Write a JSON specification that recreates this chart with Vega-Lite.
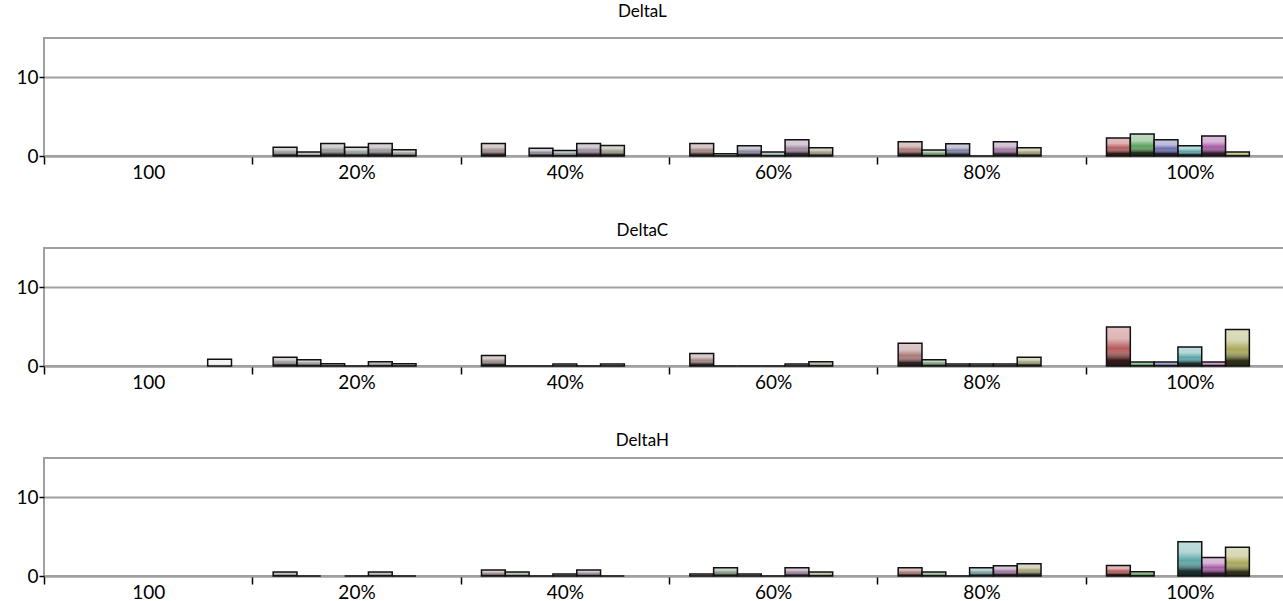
{
  "$schema": "https://vega.github.io/schema/vega-lite/v6.json",
  "padding": {"left": 14, "top": 2, "right": 0, "bottom": 0},
  "config": {
    "font": "Lato",
    "view": {"stroke": "#a0a0a0", "strokeWidth": 2},
    "axis": {"labelFont": "Lato", "labelFontSize": 19, "labelColor": "#000000", "domainColor": "#a0a0a0", "domainWidth": 2, "tickColor": "#000000", "tickWidth": 1.5, "title": null},
    "title": {"font": "Lato", "fontSize": 17, "fontWeight": "normal", "color": "#000000", "anchor": "middle", "frame": "bounds", "dx": -13},
    "concat": {"spacing": 38}
  },
  "datasets": {
    "d": [
      {"p": "DeltaL", "c": "20%", "s": "R", "k": "R20", "v": 1.1},
      {"p": "DeltaL", "c": "20%", "s": "G", "k": "G20", "v": 0.5},
      {"p": "DeltaL", "c": "20%", "s": "B", "k": "B20", "v": 1.6},
      {"p": "DeltaL", "c": "20%", "s": "C", "k": "C20", "v": 1.1},
      {"p": "DeltaL", "c": "20%", "s": "M", "k": "M20", "v": 1.6},
      {"p": "DeltaL", "c": "20%", "s": "Y", "k": "Y20", "v": 0.8},
      {"p": "DeltaL", "c": "40%", "s": "R", "k": "R40", "v": 1.6},
      {"p": "DeltaL", "c": "40%", "s": "B", "k": "B40", "v": 1.0},
      {"p": "DeltaL", "c": "40%", "s": "C", "k": "C40", "v": 0.7},
      {"p": "DeltaL", "c": "40%", "s": "M", "k": "M40", "v": 1.6},
      {"p": "DeltaL", "c": "40%", "s": "Y", "k": "Y40", "v": 1.35},
      {"p": "DeltaL", "c": "60%", "s": "R", "k": "R60", "v": 1.6},
      {"p": "DeltaL", "c": "60%", "s": "G", "k": "G60", "v": 0.3},
      {"p": "DeltaL", "c": "60%", "s": "B", "k": "B60", "v": 1.3},
      {"p": "DeltaL", "c": "60%", "s": "C", "k": "C60", "v": 0.5},
      {"p": "DeltaL", "c": "60%", "s": "M", "k": "M60", "v": 2.05},
      {"p": "DeltaL", "c": "60%", "s": "Y", "k": "Y60", "v": 1.05},
      {"p": "DeltaL", "c": "80%", "s": "R", "k": "R80", "v": 1.8},
      {"p": "DeltaL", "c": "80%", "s": "G", "k": "G80", "v": 0.75},
      {"p": "DeltaL", "c": "80%", "s": "B", "k": "B80", "v": 1.55},
      {"p": "DeltaL", "c": "80%", "s": "C", "k": "C80", "v": 0},
      {"p": "DeltaL", "c": "80%", "s": "M", "k": "M80", "v": 1.8},
      {"p": "DeltaL", "c": "80%", "s": "Y", "k": "Y80", "v": 1.05},
      {"p": "DeltaL", "c": "100%", "s": "R", "k": "R100", "v": 2.3},
      {"p": "DeltaL", "c": "100%", "s": "G", "k": "G100", "v": 2.8},
      {"p": "DeltaL", "c": "100%", "s": "B", "k": "B100", "v": 2.05},
      {"p": "DeltaL", "c": "100%", "s": "C", "k": "C100", "v": 1.3},
      {"p": "DeltaL", "c": "100%", "s": "M", "k": "M100", "v": 2.55},
      {"p": "DeltaL", "c": "100%", "s": "Y", "k": "Y100", "v": 0.5},

      {"p": "DeltaC", "c": "100", "s": "W", "k": "W", "v": 0.85},
      {"p": "DeltaC", "c": "20%", "s": "R", "k": "R20", "v": 1.1},
      {"p": "DeltaC", "c": "20%", "s": "G", "k": "G20", "v": 0.8},
      {"p": "DeltaC", "c": "20%", "s": "B", "k": "B20", "v": 0.3},
      {"p": "DeltaC", "c": "20%", "s": "C", "k": "C20", "v": 0},
      {"p": "DeltaC", "c": "20%", "s": "M", "k": "M20", "v": 0.55},
      {"p": "DeltaC", "c": "20%", "s": "Y", "k": "Y20", "v": 0.3},
      {"p": "DeltaC", "c": "40%", "s": "R", "k": "R40", "v": 1.35},
      {"p": "DeltaC", "c": "40%", "s": "G", "k": "G40", "v": 0},
      {"p": "DeltaC", "c": "40%", "s": "B", "k": "B40", "v": 0},
      {"p": "DeltaC", "c": "40%", "s": "C", "k": "C40", "v": 0.25},
      {"p": "DeltaC", "c": "40%", "s": "M", "k": "M40", "v": 0},
      {"p": "DeltaC", "c": "40%", "s": "Y", "k": "Y40", "v": 0.25},
      {"p": "DeltaC", "c": "60%", "s": "R", "k": "R60", "v": 1.6},
      {"p": "DeltaC", "c": "60%", "s": "G", "k": "G60", "v": 0},
      {"p": "DeltaC", "c": "60%", "s": "B", "k": "B60", "v": 0},
      {"p": "DeltaC", "c": "60%", "s": "C", "k": "C60", "v": 0},
      {"p": "DeltaC", "c": "60%", "s": "M", "k": "M60", "v": 0.25},
      {"p": "DeltaC", "c": "60%", "s": "Y", "k": "Y60", "v": 0.55},
      {"p": "DeltaC", "c": "80%", "s": "R", "k": "R80", "v": 2.9},
      {"p": "DeltaC", "c": "80%", "s": "G", "k": "G80", "v": 0.8},
      {"p": "DeltaC", "c": "80%", "s": "B", "k": "B80", "v": 0.25},
      {"p": "DeltaC", "c": "80%", "s": "C", "k": "C80", "v": 0.25},
      {"p": "DeltaC", "c": "80%", "s": "M", "k": "M80", "v": 0.25},
      {"p": "DeltaC", "c": "80%", "s": "Y", "k": "Y80", "v": 1.1},
      {"p": "DeltaC", "c": "100%", "s": "R", "k": "R100", "v": 4.95},
      {"p": "DeltaC", "c": "100%", "s": "G", "k": "G100", "v": 0.5},
      {"p": "DeltaC", "c": "100%", "s": "B", "k": "B100", "v": 0.5},
      {"p": "DeltaC", "c": "100%", "s": "C", "k": "C100", "v": 2.4},
      {"p": "DeltaC", "c": "100%", "s": "M", "k": "M100", "v": 0.5},
      {"p": "DeltaC", "c": "100%", "s": "Y", "k": "Y100", "v": 4.65},

      {"p": "DeltaH", "c": "20%", "s": "R", "k": "R20", "v": 0.5},
      {"p": "DeltaH", "c": "20%", "s": "G", "k": "G20", "v": 0},
      {"p": "DeltaH", "c": "20%", "s": "C", "k": "C20", "v": 0},
      {"p": "DeltaH", "c": "20%", "s": "M", "k": "M20", "v": 0.5},
      {"p": "DeltaH", "c": "20%", "s": "Y", "k": "Y20", "v": 0},
      {"p": "DeltaH", "c": "40%", "s": "R", "k": "R40", "v": 0.75},
      {"p": "DeltaH", "c": "40%", "s": "G", "k": "G40", "v": 0.5},
      {"p": "DeltaH", "c": "40%", "s": "B", "k": "B40", "v": 0},
      {"p": "DeltaH", "c": "40%", "s": "C", "k": "C40", "v": 0.25},
      {"p": "DeltaH", "c": "40%", "s": "M", "k": "M40", "v": 0.75},
      {"p": "DeltaH", "c": "40%", "s": "Y", "k": "Y40", "v": 0},
      {"p": "DeltaH", "c": "60%", "s": "R", "k": "R60", "v": 0.25},
      {"p": "DeltaH", "c": "60%", "s": "G", "k": "G60", "v": 1.05},
      {"p": "DeltaH", "c": "60%", "s": "B", "k": "B60", "v": 0.25},
      {"p": "DeltaH", "c": "60%", "s": "C", "k": "C60", "v": 0},
      {"p": "DeltaH", "c": "60%", "s": "M", "k": "M60", "v": 1.05},
      {"p": "DeltaH", "c": "60%", "s": "Y", "k": "Y60", "v": 0.5},
      {"p": "DeltaH", "c": "80%", "s": "R", "k": "R80", "v": 1.05},
      {"p": "DeltaH", "c": "80%", "s": "G", "k": "G80", "v": 0.5},
      {"p": "DeltaH", "c": "80%", "s": "B", "k": "B80", "v": 0},
      {"p": "DeltaH", "c": "80%", "s": "C", "k": "C80", "v": 1.05},
      {"p": "DeltaH", "c": "80%", "s": "M", "k": "M80", "v": 1.3},
      {"p": "DeltaH", "c": "80%", "s": "Y", "k": "Y80", "v": 1.55},
      {"p": "DeltaH", "c": "100%", "s": "R", "k": "R100", "v": 1.35},
      {"p": "DeltaH", "c": "100%", "s": "G", "k": "G100", "v": 0.55},
      {"p": "DeltaH", "c": "100%", "s": "C", "k": "C100", "v": 4.35},
      {"p": "DeltaH", "c": "100%", "s": "M", "k": "M100", "v": 2.35},
      {"p": "DeltaH", "c": "100%", "s": "Y", "k": "Y100", "v": 3.65}
    ]
  },
  "vconcat": [
    {
      "title": {"text": "DeltaL", "offset": 17},
      "width": 1250, "height": 118,
      "data": {"name": "d"},
      "transform": [{"filter": "datum.p === 'DeltaL'"}],
      "encoding": {
        "x": {"field": "c", "type": "nominal", "scale": {"domain": ["100", "20%", "40%", "60%", "80%", "100%"], "paddingInner": 0, "paddingOuter": 0}, "axis": {"labelAngle": 0, "tickBand": "extent", "tickSize": 8, "labelPadding": -1}},
        "xOffset": {"field": "s", "type": "nominal", "scale": {"domain": ["R", "G", "B", "C", "M", "Y", "W"], "paddingInner": 0, "paddingOuter": 0.875}},
        "y": {"field": "v", "type": "quantitative", "scale": {"domain": [0, 15]}, "axis": {"values": [0, 10], "grid": true, "gridColor": "#a0a0a0", "gridWidth": 2, "tickSize": 5, "labelPadding": 1, "domain": false}}
      },
      "layer": [
        {"mark": {"type": "bar"}, "encoding": {"color": {"field": "k", "type": "nominal", "legend": null, "scale": {
          "domain": ["R20","G20","B20","C20","M20","Y20","R40","G40","B40","C40","M40","Y40","R60","G60","B60","C60","M60","Y60","R80","G80","B80","C80","M80","Y80","R100","G100","B100","C100","M100","Y100","W"],
          "range": ["#9b9797","#979a97","#98989b","#979b9b","#9b979b","#9b9b97","#a08d8d","#8d9b8d","#90909e","#8d9c9c","#9c8d9c","#9d9d8d","#a48484","#849c84","#8989a2","#849e9e","#9e849e","#9f9f84","#a97777","#779d77","#8080a6","#77a1a1","#a077a0","#a2a277","#b65a5a","#5aa05a","#6a6ab0","#5aa6a6","#a45aa4","#a8a85a","#f4f4f4"]}}}},
        {"mark": {"type": "bar", "stroke": "#111111", "strokeWidth": 1.5, "fill": {"gradient": "linear", "x1": 0, "y1": 0, "x2": 0, "y2": 1, "stops": [{"offset": 0, "color": "rgba(255,255,255,0.62)"}, {"offset": 0.3, "color": "rgba(255,255,255,0.55)"}, {"offset": 0.55, "color": "rgba(255,255,255,0)"}, {"offset": 0.85, "color": "rgba(0,0,0,0.7)"}, {"offset": 1, "color": "rgba(0,0,0,0.78)"}]}},
         "encoding": {"fillOpacity": {"condition": {"test": "datum.s === 'W'", "value": 0.1}, "value": 1}}}
      ]
    },
    {
      "title": {"text": "DeltaC", "offset": 8},
      "width": 1250, "height": 118,
      "data": {"name": "d"},
      "transform": [{"filter": "datum.p === 'DeltaC'"}],
      "encoding": {
        "x": {"field": "c", "type": "nominal", "scale": {"domain": ["100", "20%", "40%", "60%", "80%", "100%"], "paddingInner": 0, "paddingOuter": 0}, "axis": {"labelAngle": 0, "tickBand": "extent", "tickSize": 8, "labelPadding": -1}},
        "xOffset": {"field": "s", "type": "nominal", "scale": {"domain": ["R", "G", "B", "C", "M", "Y", "W"], "paddingInner": 0, "paddingOuter": 0.875}},
        "y": {"field": "v", "type": "quantitative", "scale": {"domain": [0, 15]}, "axis": {"values": [0, 10], "grid": true, "gridColor": "#a0a0a0", "gridWidth": 2, "tickSize": 5, "labelPadding": 1, "domain": false}}
      },
      "layer": [
        {"mark": {"type": "bar"}, "encoding": {"color": {"field": "k", "type": "nominal", "legend": null, "scale": {
          "domain": ["R20","G20","B20","C20","M20","Y20","R40","G40","B40","C40","M40","Y40","R60","G60","B60","C60","M60","Y60","R80","G80","B80","C80","M80","Y80","R100","G100","B100","C100","M100","Y100","W"],
          "range": ["#9b9797","#979a97","#98989b","#979b9b","#9b979b","#9b9b97","#a08d8d","#8d9b8d","#90909e","#8d9c9c","#9c8d9c","#9d9d8d","#a48484","#849c84","#8989a2","#849e9e","#9e849e","#9f9f84","#a97777","#779d77","#8080a6","#77a1a1","#a077a0","#a2a277","#b65a5a","#5aa05a","#6a6ab0","#5aa6a6","#a45aa4","#a8a85a","#f4f4f4"]}}}},
        {"mark": {"type": "bar", "stroke": "#111111", "strokeWidth": 1.5, "fill": {"gradient": "linear", "x1": 0, "y1": 0, "x2": 0, "y2": 1, "stops": [{"offset": 0, "color": "rgba(255,255,255,0.62)"}, {"offset": 0.3, "color": "rgba(255,255,255,0.55)"}, {"offset": 0.55, "color": "rgba(255,255,255,0)"}, {"offset": 0.85, "color": "rgba(0,0,0,0.7)"}, {"offset": 1, "color": "rgba(0,0,0,0.78)"}]}},
         "encoding": {"fillOpacity": {"condition": {"test": "datum.s === 'W'", "value": 0.1}, "value": 1}}}
      ]
    },
    {
      "title": {"text": "DeltaH", "offset": 8},
      "width": 1250, "height": 118,
      "data": {"name": "d"},
      "transform": [{"filter": "datum.p === 'DeltaH'"}],
      "encoding": {
        "x": {"field": "c", "type": "nominal", "scale": {"domain": ["100", "20%", "40%", "60%", "80%", "100%"], "paddingInner": 0, "paddingOuter": 0}, "axis": {"labelAngle": 0, "tickBand": "extent", "tickSize": 8, "labelPadding": -1}},
        "xOffset": {"field": "s", "type": "nominal", "scale": {"domain": ["R", "G", "B", "C", "M", "Y", "W"], "paddingInner": 0, "paddingOuter": 0.875}},
        "y": {"field": "v", "type": "quantitative", "scale": {"domain": [0, 15]}, "axis": {"values": [0, 10], "grid": true, "gridColor": "#a0a0a0", "gridWidth": 2, "tickSize": 5, "labelPadding": 1, "domain": false}}
      },
      "layer": [
        {"mark": {"type": "bar"}, "encoding": {"color": {"field": "k", "type": "nominal", "legend": null, "scale": {
          "domain": ["R20","G20","B20","C20","M20","Y20","R40","G40","B40","C40","M40","Y40","R60","G60","B60","C60","M60","Y60","R80","G80","B80","C80","M80","Y80","R100","G100","B100","C100","M100","Y100","W"],
          "range": ["#9b9797","#979a97","#98989b","#979b9b","#9b979b","#9b9b97","#a08d8d","#8d9b8d","#90909e","#8d9c9c","#9c8d9c","#9d9d8d","#a48484","#849c84","#8989a2","#849e9e","#9e849e","#9f9f84","#a97777","#779d77","#8080a6","#77a1a1","#a077a0","#a2a277","#b65a5a","#5aa05a","#6a6ab0","#5aa6a6","#a45aa4","#a8a85a","#f4f4f4"]}}}},
        {"mark": {"type": "bar", "stroke": "#111111", "strokeWidth": 1.5, "fill": {"gradient": "linear", "x1": 0, "y1": 0, "x2": 0, "y2": 1, "stops": [{"offset": 0, "color": "rgba(255,255,255,0.62)"}, {"offset": 0.3, "color": "rgba(255,255,255,0.55)"}, {"offset": 0.55, "color": "rgba(255,255,255,0)"}, {"offset": 0.85, "color": "rgba(0,0,0,0.7)"}, {"offset": 1, "color": "rgba(0,0,0,0.78)"}]}},
         "encoding": {"fillOpacity": {"condition": {"test": "datum.s === 'W'", "value": 0.1}, "value": 1}}}
      ]
    }
  ]
}
